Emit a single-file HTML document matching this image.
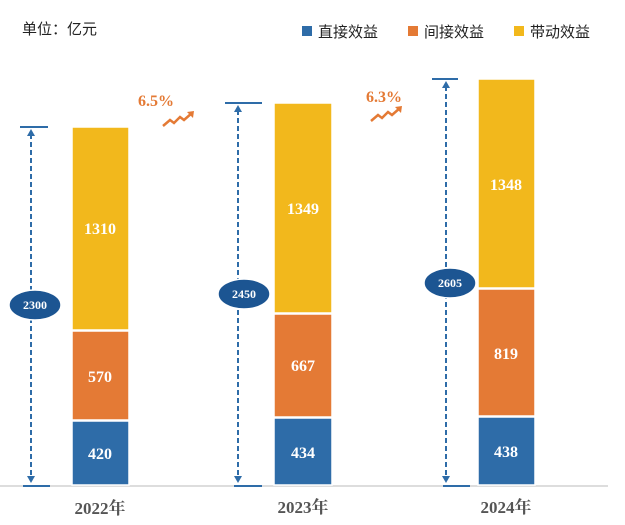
<!DOCTYPE html>
<html><head><meta charset="utf-8"><style>
body{margin:0;background:#fff;}
svg{display:block;font-family:"Liberation Serif","Noto Serif CJK SC",serif;}
.s{font-family:"Liberation Sans","Noto Sans CJK SC",sans-serif;}
</style></head><body>
<svg width="625" height="525" viewBox="0 0 625 525">
<text x="22" y="34" class="s" font-size="15" fill="#222">单位：亿元</text>
<rect x="302" y="26" width="10" height="10" fill="#2e6ca8"/><text x="318" y="37" class="s" font-size="15" fill="#222">直接效益</text>
<rect x="408" y="26" width="10" height="10" fill="#e47a35"/><text x="424" y="37" class="s" font-size="15" fill="#222">间接效益</text>
<rect x="514" y="26" width="10" height="10" fill="#f2b81c"/><text x="530" y="37" class="s" font-size="15" fill="#222">带动效益</text>
<line x1="0" y1="486" x2="608" y2="486" stroke="#ddd" stroke-width="2"/>
<g stroke="#fff" stroke-width="1.5">
<rect x="72" y="127" width="57" height="203" fill="#f2b81c"/>
<rect x="72" y="331" width="57" height="89" fill="#e47a35"/>
<rect x="72" y="421" width="57" height="64" fill="#2e6ca8"/>
<rect x="274" y="103" width="58" height="210" fill="#f2b81c"/>
<rect x="274" y="314" width="58" height="103" fill="#e47a35"/>
<rect x="274" y="418" width="58" height="67" fill="#2e6ca8"/>
<rect x="478" y="79" width="57" height="209" fill="#f2b81c"/>
<rect x="478" y="289" width="57" height="127" fill="#e47a35"/>
<rect x="478" y="417" width="57" height="68" fill="#2e6ca8"/>
</g>
<g fill="#fff" font-size="16" font-weight="bold" text-anchor="middle">
<text x="100" y="234">1310</text><text x="100" y="382">570</text><text x="100" y="459">420</text>
<text x="303" y="214">1349</text><text x="303" y="371">667</text><text x="303" y="458">434</text>
<text x="506" y="190">1348</text><text x="506" y="359">819</text><text x="506" y="457">438</text>
</g>
<g stroke="#2e6ca8" stroke-width="2" fill="none">
<line x1="20" y1="127" x2="48" y2="127"/><line x1="23" y1="486" x2="50" y2="486"/>
<line x1="31" y1="134" x2="31" y2="480" stroke-dasharray="5,3"/>
<line x1="225" y1="103" x2="262" y2="103"/><line x1="234" y1="486" x2="262" y2="486"/>
<line x1="238" y1="110" x2="238" y2="480" stroke-dasharray="5,3"/>
<line x1="432" y1="79" x2="458" y2="79"/><line x1="443" y1="486" x2="470" y2="486"/>
<line x1="446" y1="86" x2="446" y2="480" stroke-dasharray="5,3"/>
</g>
<g fill="#2e6ca8">
<path d="M27,136 L31,129 L35,136Z"/><path d="M27,476 L31,483 L35,476Z"/>
<path d="M234,112 L238,105 L242,112Z"/><path d="M234,476 L238,483 L242,476Z"/>
<path d="M442,88 L446,81 L450,88Z"/><path d="M442,476 L446,483 L450,476Z"/>
</g>
<g fill="#1c5592" stroke="#fff" stroke-width="1.5">
<ellipse cx="35" cy="305" rx="26" ry="15"/><ellipse cx="244" cy="294" rx="26" ry="15"/><ellipse cx="450" cy="283" rx="26" ry="15"/>
</g>
<g fill="#fff" font-size="12" font-weight="bold" text-anchor="middle">
<text x="35" y="309">2300</text><text x="244" y="298">2450</text><text x="450" y="287">2605</text>
</g>
<g fill="#e47a35" font-size="16" font-weight="bold">
<text x="138" y="106">6.5%</text><text x="366" y="102">6.3%</text>
</g>
<g stroke="#e47a35" stroke-width="2.5" fill="none">
<path d="M163,126 L170,120 L174,123 L180,117 L184,120 L192,113"/>
<path d="M371,121 L378,115 L382,118 L388,112 L392,115 L400,108"/>
</g>
<g fill="#e47a35"><path d="M187,112 L194,111 L193,118Z"/><path d="M395,107 L402,106 L401,113Z"/></g>
<g fill="#555" font-size="17" font-weight="bold" text-anchor="middle">
<text x="100" y="514">2022年</text><text x="303" y="513">2023年</text><text x="506" y="513">2024年</text>
</g>
</svg>
</body></html>
